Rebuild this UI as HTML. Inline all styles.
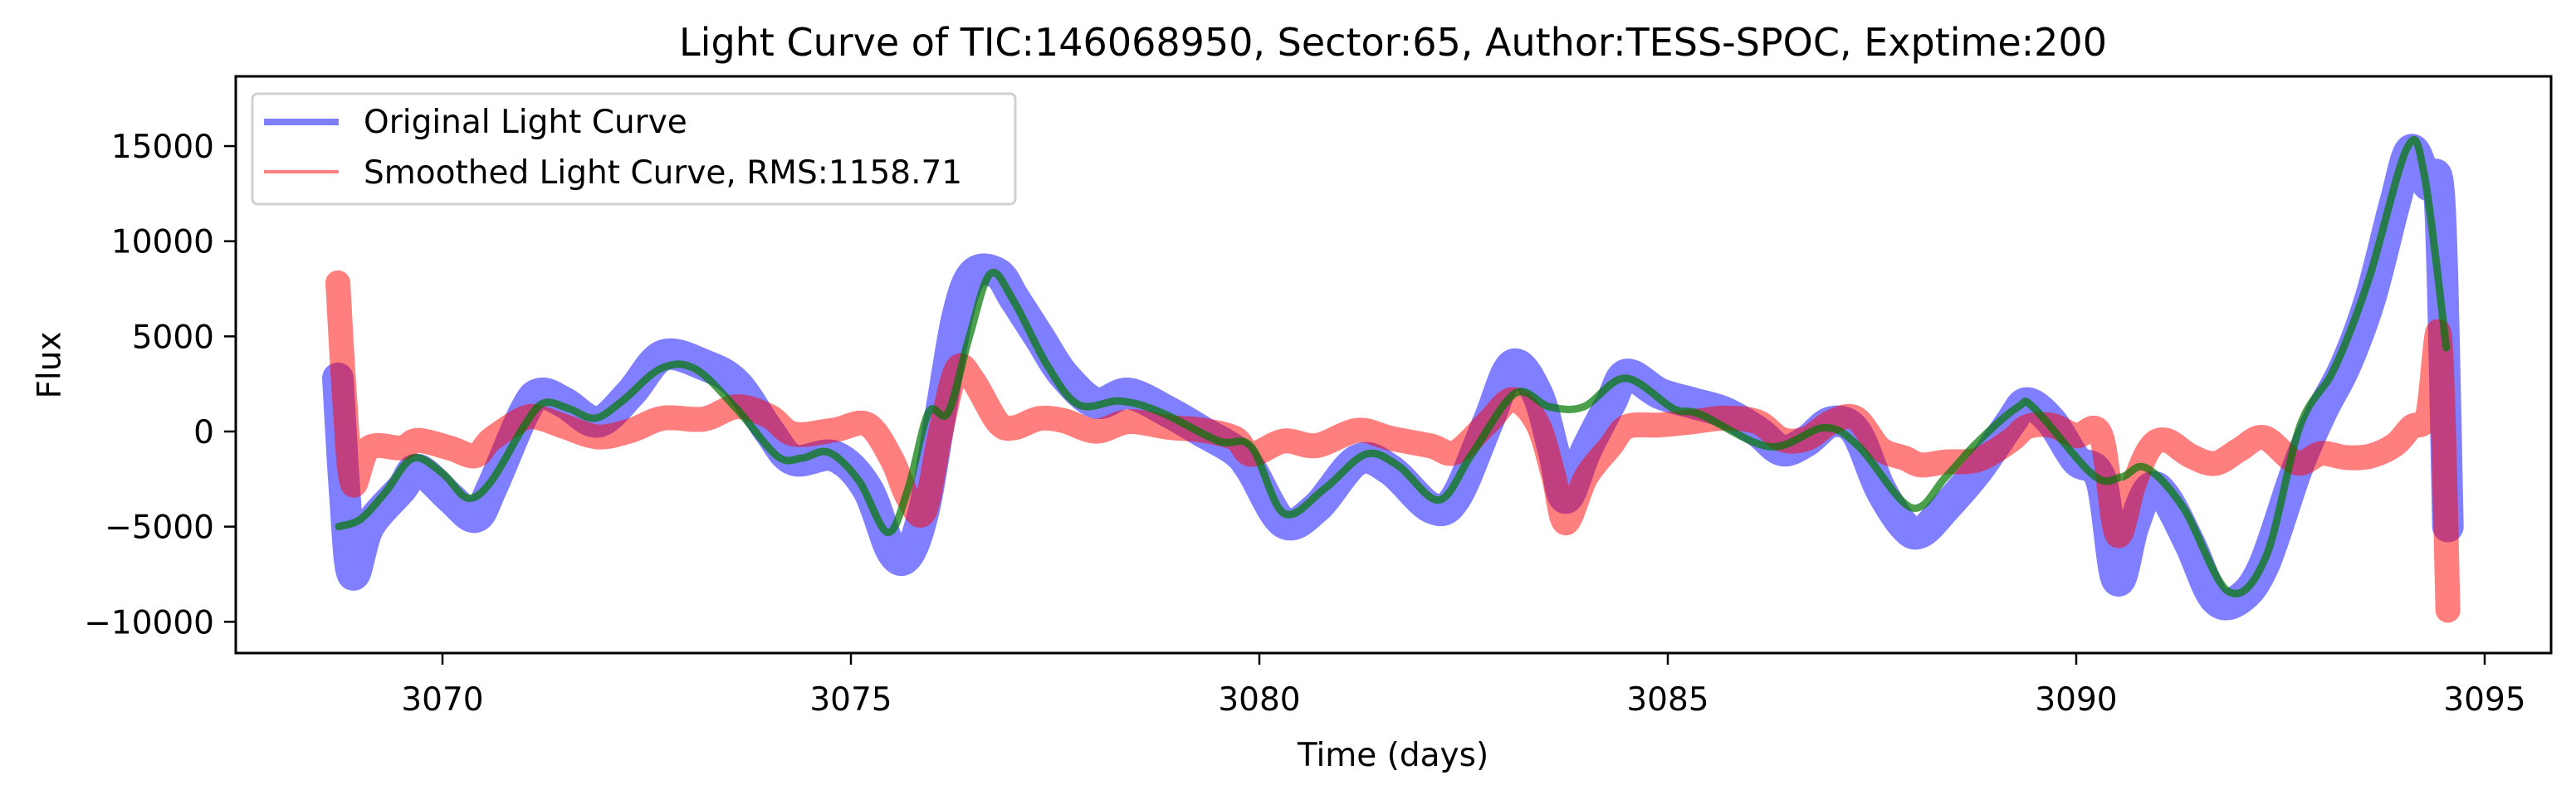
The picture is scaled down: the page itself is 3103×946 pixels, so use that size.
<!DOCTYPE html>
<html><head><meta charset="utf-8"><style>
body{margin:0;background:#fff;}
svg text{font-family:"DejaVu Sans","Liberation Sans",sans-serif;fill:#000;}
</style></head><body>
<svg id="chart" width="3103" height="941" xmlns="http://www.w3.org/2000/svg">
<rect width="3103" height="941" fill="#fff"/>
<text x="1678" y="67" font-size="46" text-anchor="middle">Light Curve of TIC:146068950, Sector:65, Author:TESS-SPOC, Exptime:200</text>
<g id="plot" clip-path="url(#clip)"></g>
<defs><clipPath id="clip"><rect x="284" y="92" width="2789" height="695"/></clipPath></defs>
<rect x="284" y="92" width="2789" height="695" fill="none" stroke="#000" stroke-width="3"/>
<g id="xticks"></g><g id="yticks"></g>
<text x="1678" y="923" font-size="39" text-anchor="middle">Time (days)</text>
<text x="62" y="440" font-size="39" text-anchor="middle" transform="rotate(-90 62 440)" dominant-baseline="middle">Flux</text>
<g>
<rect x="304" y="113" width="919" height="133" rx="6" fill="#fff" fill-opacity="0.8" stroke="#d0d0d0" stroke-width="3"/>
<line x1="318" y1="147" x2="408" y2="147" stroke="#0000ff" stroke-opacity="0.5" stroke-width="8"/>
<text x="438" y="160" font-size="39">Original Light Curve</text>
<line x1="318" y1="207" x2="408" y2="207" stroke="#ff0000" stroke-opacity="0.5" stroke-width="4"/>
<text x="438" y="221" font-size="39">Smoothed Light Curve, RMS:1158.71</text>
</g>
</svg>
<script>
const xTickValues=[3070,3075,3080,3085,3090,3095];
const yTickValues=[-10000,-5000,0,5000,10000,15000];
const yTickLabels=["\u221210000","\u22125000","0","5000","10000","15000"];
const greenT=[3068.73,3069.0,3069.3,3069.64,3070.0,3070.31,3070.6,3071.0,3071.24,3071.55,3071.87,3072.2,3072.67,3073.09,3073.6,3074.1,3074.4,3074.73,3075.1,3075.45,3075.7,3075.95,3076.19,3076.45,3076.71,3077.0,3077.4,3077.79,3078.3,3078.8,3079.5,3079.9,3080.3,3080.8,3081.3,3081.7,3082.2,3082.6,3083.13,3083.55,3083.97,3084.48,3085.07,3085.4,3086.25,3086.92,3087.34,3087.98,3088.4,3088.78,3089.29,3089.49,3090.21,3090.55,3090.85,3091.31,3091.86,3092.32,3092.74,3093.16,3093.58,3094.05,3094.26,3094.53];
const greenF=[-5.0,-4.6,-3.2,-1.4,-2.2,-3.5,-2.6,0.3,1.5,1.2,0.7,1.6,3.3,3.3,1.2,-1.3,-1.4,-1.1,-2.6,-5.3,-3.0,1.0,1.0,5.0,8.3,6.8,3.5,1.4,1.6,1.0,-0.5,-0.8,-4.3,-3.0,-1.2,-1.8,-3.6,-1.2,2.0,1.3,1.3,2.8,1.2,0.9,-0.8,0.2,-0.8,-4.0,-2.4,-0.6,1.3,1.2,-2.3,-2.4,-1.9,-4.0,-8.4,-6.6,0.3,3.3,8.0,14.9,13.5,4.4];
const blueT=[3068.72,3068.8,3068.9,3069.1,3069.5,3069.7,3070.1,3070.4,3070.6,3071.0,3071.2,3071.5,3071.9,3072.3,3072.7,3073.2,3073.6,3074.0,3074.3,3074.8,3075.2,3075.5,3075.7,3075.9,3076.1,3076.3,3076.5,3076.8,3077.0,3077.3,3077.6,3078.0,3078.4,3078.9,3079.3,3079.7,3079.9,3080.3,3080.7,3081.2,3081.6,3082.1,3082.4,3082.8,3083.1,3083.4,3083.6,3083.75,3084.0,3084.3,3084.5,3084.9,3085.3,3085.7,3086.1,3086.4,3086.7,3087.0,3087.3,3087.6,3087.9,3088.1,3088.4,3088.8,3089.2,3089.4,3089.7,3090.0,3090.3,3090.5,3090.7,3090.9,3091.1,3091.4,3091.7,3092.0,3092.3,3092.7,3093.0,3093.3,3093.6,3093.9,3094.1,3094.3,3094.45,3094.55];
const blueF=[2.8,-3.0,-7.5,-5.0,-3.0,-2.0,-3.5,-4.5,-3.0,1.0,2.0,1.5,0.5,2.0,4.0,3.5,2.5,0.0,-1.5,-1.3,-3.0,-6.3,-6.5,-4.0,1.0,6.0,8.3,8.3,7.0,5.0,3.0,1.5,2.0,1.0,0.0,-1.0,-2.0,-4.8,-4.0,-1.5,-2.0,-4.0,-3.5,0.5,3.5,2.0,-1.0,-3.5,-1.0,1.5,3.0,2.0,1.5,1.0,0.0,-1.0,-0.5,0.5,0.0,-3.0,-5.0,-5.3,-4.0,-2.0,0.5,1.5,0.5,-1.5,-2.5,-7.8,-5.0,-3.0,-3.5,-6.0,-8.8,-8.8,-7.0,-2.0,1.0,3.5,7.0,12.0,14.8,13.0,12.0,-5.0];

const X=t=>533+(t-3070)*98.4;
const Y=f=>520-f*0.02293;
const NS="http://www.w3.org/2000/svg";
function interp(t){for(let i=0;i<greenT.length-1;i++){if(t<=greenT[i+1]){const a=(t-greenT[i])/(greenT[i+1]-greenT[i]);return greenF[i]+a*(greenF[i+1]-greenF[i]);}}return greenF[greenF.length-1];}
const plot=document.getElementById('plot');
function smoothD(pts){
 let d='M'+pts[0][0].toFixed(1)+','+pts[0][1].toFixed(1);
 for(let i=0;i<pts.length-1;i++){
  const p0=pts[Math.max(0,i-1)],p1=pts[i],p2=pts[i+1],p3=pts[Math.min(pts.length-1,i+2)];
  const c1x=p1[0]+(p2[0]-p0[0])/6,c1y=p1[1]+(p2[1]-p0[1])/6;
  const c2x=p2[0]-(p3[0]-p1[0])/6,c2y=p2[1]-(p3[1]-p1[1])/6;
  d+=' C'+c1x.toFixed(1)+','+c1y.toFixed(1)+' '+c2x.toFixed(1)+','+c2y.toFixed(1)+' '+p2[0].toFixed(1)+','+p2[1].toFixed(1);
 }
 return d;
}
function path(ts,fs,color,w,op,name){
 const p=document.createElementNS(NS,'path');
 p.setAttribute('d',smoothD(ts.map((t,i)=>[X(t),Y(fs[i]*1000)])));
 p.setAttribute('fill','none');p.setAttribute('stroke',color);p.setAttribute('stroke-width',w);
 p.setAttribute('stroke-opacity',op);p.setAttribute('stroke-linejoin','round');p.setAttribute('stroke-linecap','round');
 
 
 plot.appendChild(p);
}
path(blueT,blueF,'#0000ff',38,0.5,'original-light-curve');
const redF=blueT.map((t,i)=>blueF[i]-interp(t));
path(blueT,redF,'#ff0000',30,0.5,'smoothed-light-curve');
path(greenT,greenF,'#007700',9,0.7,'trend-curve');
const xt=document.getElementById('xticks');
xTickValues.forEach(v=>{
 const x=X(v);
 const l=document.createElementNS(NS,'line');
 l.setAttribute('x1',x);l.setAttribute('x2',x);l.setAttribute('y1',787);l.setAttribute('y2',801);l.setAttribute('stroke','#000');l.setAttribute('stroke-width',2.5);
 
 
 xt.appendChild(l);
 const tx=document.createElementNS(NS,'text');
 tx.setAttribute('x',x);tx.setAttribute('y',856);tx.setAttribute('font-size',39);tx.setAttribute('text-anchor','middle');tx.textContent=v;
 
 
 xt.appendChild(tx);
});
const yt=document.getElementById('yticks');
yTickValues.forEach((v,i)=>{
 const y=Y(v);
 const l=document.createElementNS(NS,'line');
 l.setAttribute('x1',270);l.setAttribute('x2',284);l.setAttribute('y1',y);l.setAttribute('y2',y);l.setAttribute('stroke','#000');l.setAttribute('stroke-width',2.5);
 
 
 yt.appendChild(l);
 const tx=document.createElementNS(NS,'text');
 tx.setAttribute('x',258);tx.setAttribute('y',y+14);tx.setAttribute('font-size',39);tx.setAttribute('text-anchor','end');tx.textContent=yTickLabels[i];
 
 
 yt.appendChild(tx);
});
</script>
</body></html>
